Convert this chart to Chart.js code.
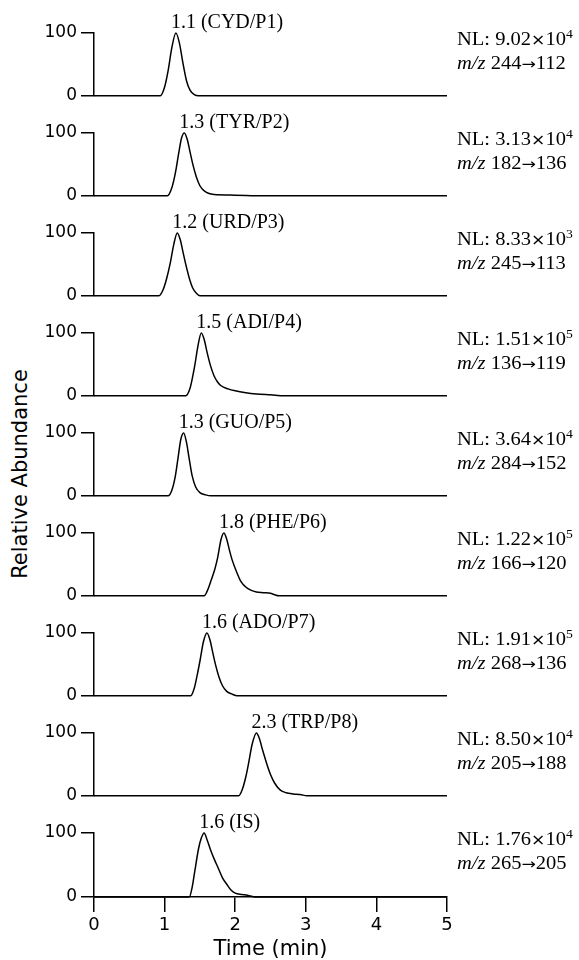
<!DOCTYPE html>
<html>
<head>
<meta charset="utf-8">
<script src="https://cdn.jsdelivr.net/npm/chart.js@4"></script>
<style>
  body { margin: 0; background: #fff; width: 579px; height: 960px; position: relative; overflow: hidden; }
  .panel { position: absolute; left: 0; width: 460px; }
  .nl { position: absolute; left: 457px; font: 18px "Liberation Serif", serif; line-height: 22px; color: #000;
        white-space: nowrap; transform: scaleX(1.14); transform-origin: left top; }
  .nl sup { font-size: 12px; vertical-align: 0; position: relative; top: -7px; }
  .nl .x { font-family: "DejaVu Sans", sans-serif; font-size: 15px; }
  .nl .arr { font-family: "DejaVu Sans", sans-serif; font-size: 15px; }
  .ylabel { position: absolute; left: 20px; top: 474px; font: 21px "DejaVu Sans", sans-serif; color: #000;
            white-space: nowrap; transform: translate(-50%, -50%) rotate(-90deg); }
</style>
</head>
<body>
<div class="ylabel">Relative Abundance</div>
<script>
// tick labels
const timeTicks = [0, 1, 2, 3, 4, 5];
const abundTicks = [0, 100];

// peak annotations and NL / transitions on the right
const peakTimes = [1.16, 1.28, 1.18, 1.52, 1.27, 1.84, 1.60, 2.30, 1.56];
const peakLabels = ['1.1 (CYD/P1)', '1.3 (TYR/P2)', '1.2 (URD/P3)', '1.5 (ADI/P4)', '1.3 (GUO/P5)',
                    '1.8 (PHE/P6)', '1.6 (ADO/P7)', '2.3 (TRP/P8)', '1.6 (IS)'];
const nlMantissa = ['9.02', '3.13', '8.33', '1.51', '3.64', '1.22', '1.91', '8.50', '1.76'];
const nlExponent = ['4', '4', '3', '5', '4', '5', '5', '4', '4'];
const precursor = ['244', '182', '245', '136', '284', '166', '268', '205', '265'];
const product = ['112', '136', '113', '119', '152', '120', '136', '188', '205'];

// chromatogram traces (time in min, relative abundance in %)
const cydTime  = [0, 0.94, 1.00, 1.05, 1.10, 1.16, 1.21, 1.26, 1.31, 1.36, 1.42, 1.48, 5];
const cydAbund = [0, 0, 14, 40, 75, 100, 84, 52, 24, 9, 2, 0, 0];

const tyrTime  = [0, 1.04, 1.10, 1.15, 1.20, 1.24, 1.28, 1.32, 1.36, 1.40, 1.45, 1.50, 1.56, 1.62, 1.70, 2.00, 2.40, 5];
const tyrAbund = [0, 0, 12, 35, 68, 92, 100, 90, 70, 50, 30, 16, 8, 4, 2, 1, 0, 0];

const urdTime  = [0, 0.92, 0.98, 1.03, 1.08, 1.13, 1.18, 1.22, 1.26, 1.30, 1.35, 1.40, 1.45, 1.50, 5];
const urdAbund = [0, 0, 10, 28, 52, 82, 100, 90, 70, 50, 28, 12, 4, 0, 0];

const adiTime  = [0, 1.30, 1.36, 1.40, 1.43, 1.47, 1.52, 1.56, 1.60, 1.65, 1.70, 1.75, 1.80, 1.90, 2.00, 2.15, 2.30, 2.50, 2.70, 5];
const adiAbund = [0, 0, 12, 32, 50, 78, 100, 90, 70, 48, 32, 22, 16, 11, 8, 5, 3, 1.5, 0, 0];

const guoTime  = [0, 1.05, 1.10, 1.15, 1.19, 1.23, 1.27, 1.31, 1.35, 1.39, 1.44, 1.50, 1.58, 1.66, 5];
const guoAbund = [0, 0, 8, 30, 60, 90, 100, 85, 58, 32, 14, 5, 1.5, 0, 0];

const pheTime  = [0, 1.56, 1.62, 1.66, 1.71, 1.75, 1.80, 1.84, 1.88, 1.92, 1.96, 2.02, 2.08, 2.15, 2.22, 2.30, 2.40, 2.50, 2.55, 2.62, 5];
const pheAbund = [0, 0, 12, 25, 42, 60, 90, 100, 90, 72, 56, 38, 23, 14, 9, 6, 5, 4, 2, 0, 0];

const adoTime  = [0, 1.37, 1.42, 1.46, 1.50, 1.55, 1.60, 1.64, 1.68, 1.72, 1.77, 1.82, 1.88, 1.95, 2.03, 5];
const adoAbund = [0, 0, 12, 32, 55, 86, 100, 90, 70, 50, 30, 16, 7, 3, 0, 0];

const trpTime  = [0, 2.05, 2.10, 2.15, 2.19, 2.24, 2.30, 2.34, 2.39, 2.45, 2.50, 2.56, 2.64, 2.72, 2.82, 2.92, 3.02, 5];
const trpAbund = [0, 0, 10, 30, 52, 82, 100, 92, 72, 50, 34, 20, 9, 5, 3, 2, 0, 0];

const isTime   = [0, 1.35, 1.39, 1.43, 1.48, 1.52, 1.56, 1.60, 1.65, 1.70, 1.76, 1.82, 1.88, 1.94, 2.00, 2.10, 2.20, 2.28, 5];
const isAbund  = [0, 0, 15, 42, 75, 92, 100, 90, 74, 60, 45, 30, 20, 11, 6, 4, 2, 0, 0];

const traces = [
  [cydTime, cydAbund], [tyrTime, tyrAbund], [urdTime, urdAbund],
  [adiTime, adiAbund], [guoTime, guoAbund], [pheTime, pheAbund],
  [adoTime, adoAbund], [trpTime, trpAbund], [isTime, isAbund]
];

// writes the peak name just above the apex
const peakLabel = {
  id: 'peakLabel',
  afterDatasetsDraw(chart, args, opts) {
    const { ctx, chartArea, scales } = chart;
    ctx.save();
    ctx.font = '20px "Liberation Serif"';
    ctx.fillStyle = '#000';
    ctx.textAlign = 'left';
    ctx.textBaseline = 'alphabetic';
    ctx.fillText(opts.text, scales.x.getPixelForValue(opts.time) - 5, chartArea.top - 5);
    ctx.restore();
  }
};

function makePanel(i) {
  const last = i === traces.length - 1;
  // upper canvases are 10px taller than their slot (the "0" label needs room below the axis)
  const h = last ? 160 : 110;
  const wrap = document.createElement('div');
  wrap.className = 'panel';
  wrap.style.top = (last ? 802 : 100 * i) + 'px';
  wrap.style.height = h + 'px';
  const cv = document.createElement('canvas');
  cv.width = 460;
  cv.height = h;
  wrap.appendChild(cv);
  document.body.appendChild(wrap);

  const [t, v] = traces[i];
  new Chart(cv, {
    type: 'line',
    data: {
      datasets: [{
        data: t.map((x, k) => ({ x: x, y: v[k] })),
        borderColor: '#000',
        borderWidth: 1.5,
        pointRadius: 0,
        cubicInterpolationMode: 'monotone',
        clip: 3
      }]
    },
    options: {
      responsive: false,
      animation: false,
      events: [],
      layout: { padding: { top: last ? 31 : 33, right: 13, bottom: last ? 0 : 5, left: 0 } },
      plugins: {
        legend: { display: false },
        tooltip: { enabled: false },
        peakLabel: { text: peakLabels[i], time: peakTimes[i] }
      },
      scales: {
        x: {
          type: 'linear',
          min: 0,
          max: 5,
          display: last,
          afterBuildTicks: s => { s.ticks = timeTicks.map(val => ({ value: val })); },
          afterFit: s => { s.height = last ? 65 : 0; },
          grid: { drawOnChartArea: false, drawTicks: true, tickLength: 15, color: '#000', lineWidth: 1.5 },
          border: { display: true, color: '#000', width: 1.5 },
          ticks: { color: '#000', padding: 3, font: { family: 'DejaVu Sans', size: 18 } },
          title: { display: true, text: 'Time (min)', color: '#000', padding: 0,
                   font: { family: 'DejaVu Sans', size: 21 } }
        },
        y: {
          min: 0,
          max: 100,
          afterBuildTicks: s => { s.ticks = abundTicks.map(val => ({ value: val })); },
          afterFit: s => { s.width = 94; },
          grid: { drawOnChartArea: false, drawTicks: true, tickLength: 13, color: '#000', lineWidth: 1.5 },
          border: { display: true, color: '#000', width: 1.5 },
          ticks: { color: '#000', padding: 4, font: { family: 'DejaVu Sans', size: 17 } }
        }
      }
    },
    plugins: [peakLabel]
  });

  const nl = document.createElement('div');
  nl.className = 'nl';
  nl.style.top = (28 + 100 * i) + 'px';
  nl.innerHTML = 'NL: ' + nlMantissa[i] + '<span class="x">×</span>10<sup>' + nlExponent[i] + '</sup><br><i>m/z</i> ' +
                 precursor[i] + '<span class="arr">→</span>' + product[i];
  document.body.appendChild(nl);
}

for (let i = 0; i < traces.length; i++) makePanel(i);
</script>
</body>
</html>
